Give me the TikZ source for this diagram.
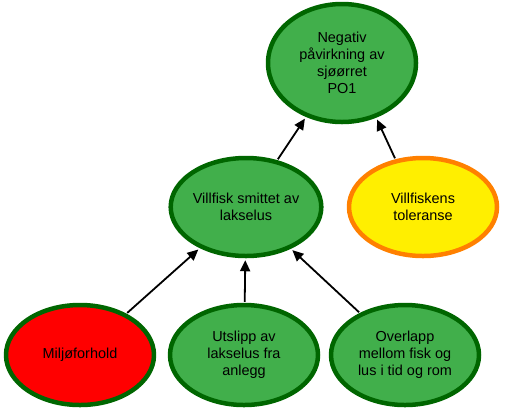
\documentclass[tikz,border=0pt]{standalone}
\usepackage{fontspec}
\setmainfont{Liberation Sans}
\usetikzlibrary{shapes.geometric,arrows.meta}
\definecolor{bord}{HTML}{006600}
\definecolor{grn}{HTML}{41AF4B}
\definecolor{ylw}{HTML}{FFEF00}
\definecolor{orng}{HTML}{FF8000}
\begin{document}
\begin{tikzpicture}[x=1bp, y=-1bp, font=\fontsize{14.5}{17}\selectfont, line join=round,
	blob/.style={ellipse, draw=bord, line width=4.5bp, fill=grn, inner sep=0pt, align=center, minimum width=148bp, minimum height=98bp},
	arr/.style={-{Triangle[length=11bp,width=10bp]}, line width=1.8bp, shorten <=1bp, shorten >=2bp}]
				\useasboundingbox (0,0) rectangle (505,413);
				\node[blob, minimum height=118bp] (neg) at (342,63) {Negativ\\påvirkning av\\sjøørret\\PO1};
				\node[blob] (vill) at (246,207) {Villfisk smittet av\\lakselus};
				\node[blob, draw=orng, fill=ylw] (tol) at (423,207) {Villfiskens\\toleranse};
				\node[blob, fill=red, minimum height=100bp] (milj) at (80,355) {Miljøforhold};
				\node[blob, minimum height=100bp] (utsl) at (244,355) {Utslipp av\\lakselus fra\\anlegg};
				\node[blob, minimum height=100bp] (over) at (405,355) {Overlapp\\mellom fisk og\\lus i tid og rom};
				\foreach \a/\b in {vill/neg, milj/vill, utsl/vill, over/vill}{\draw[arr] (\a)--(\b);}
				\draw[arr] (tol.120)--(neg.-58);
			\end{tikzpicture}
\end{document}
